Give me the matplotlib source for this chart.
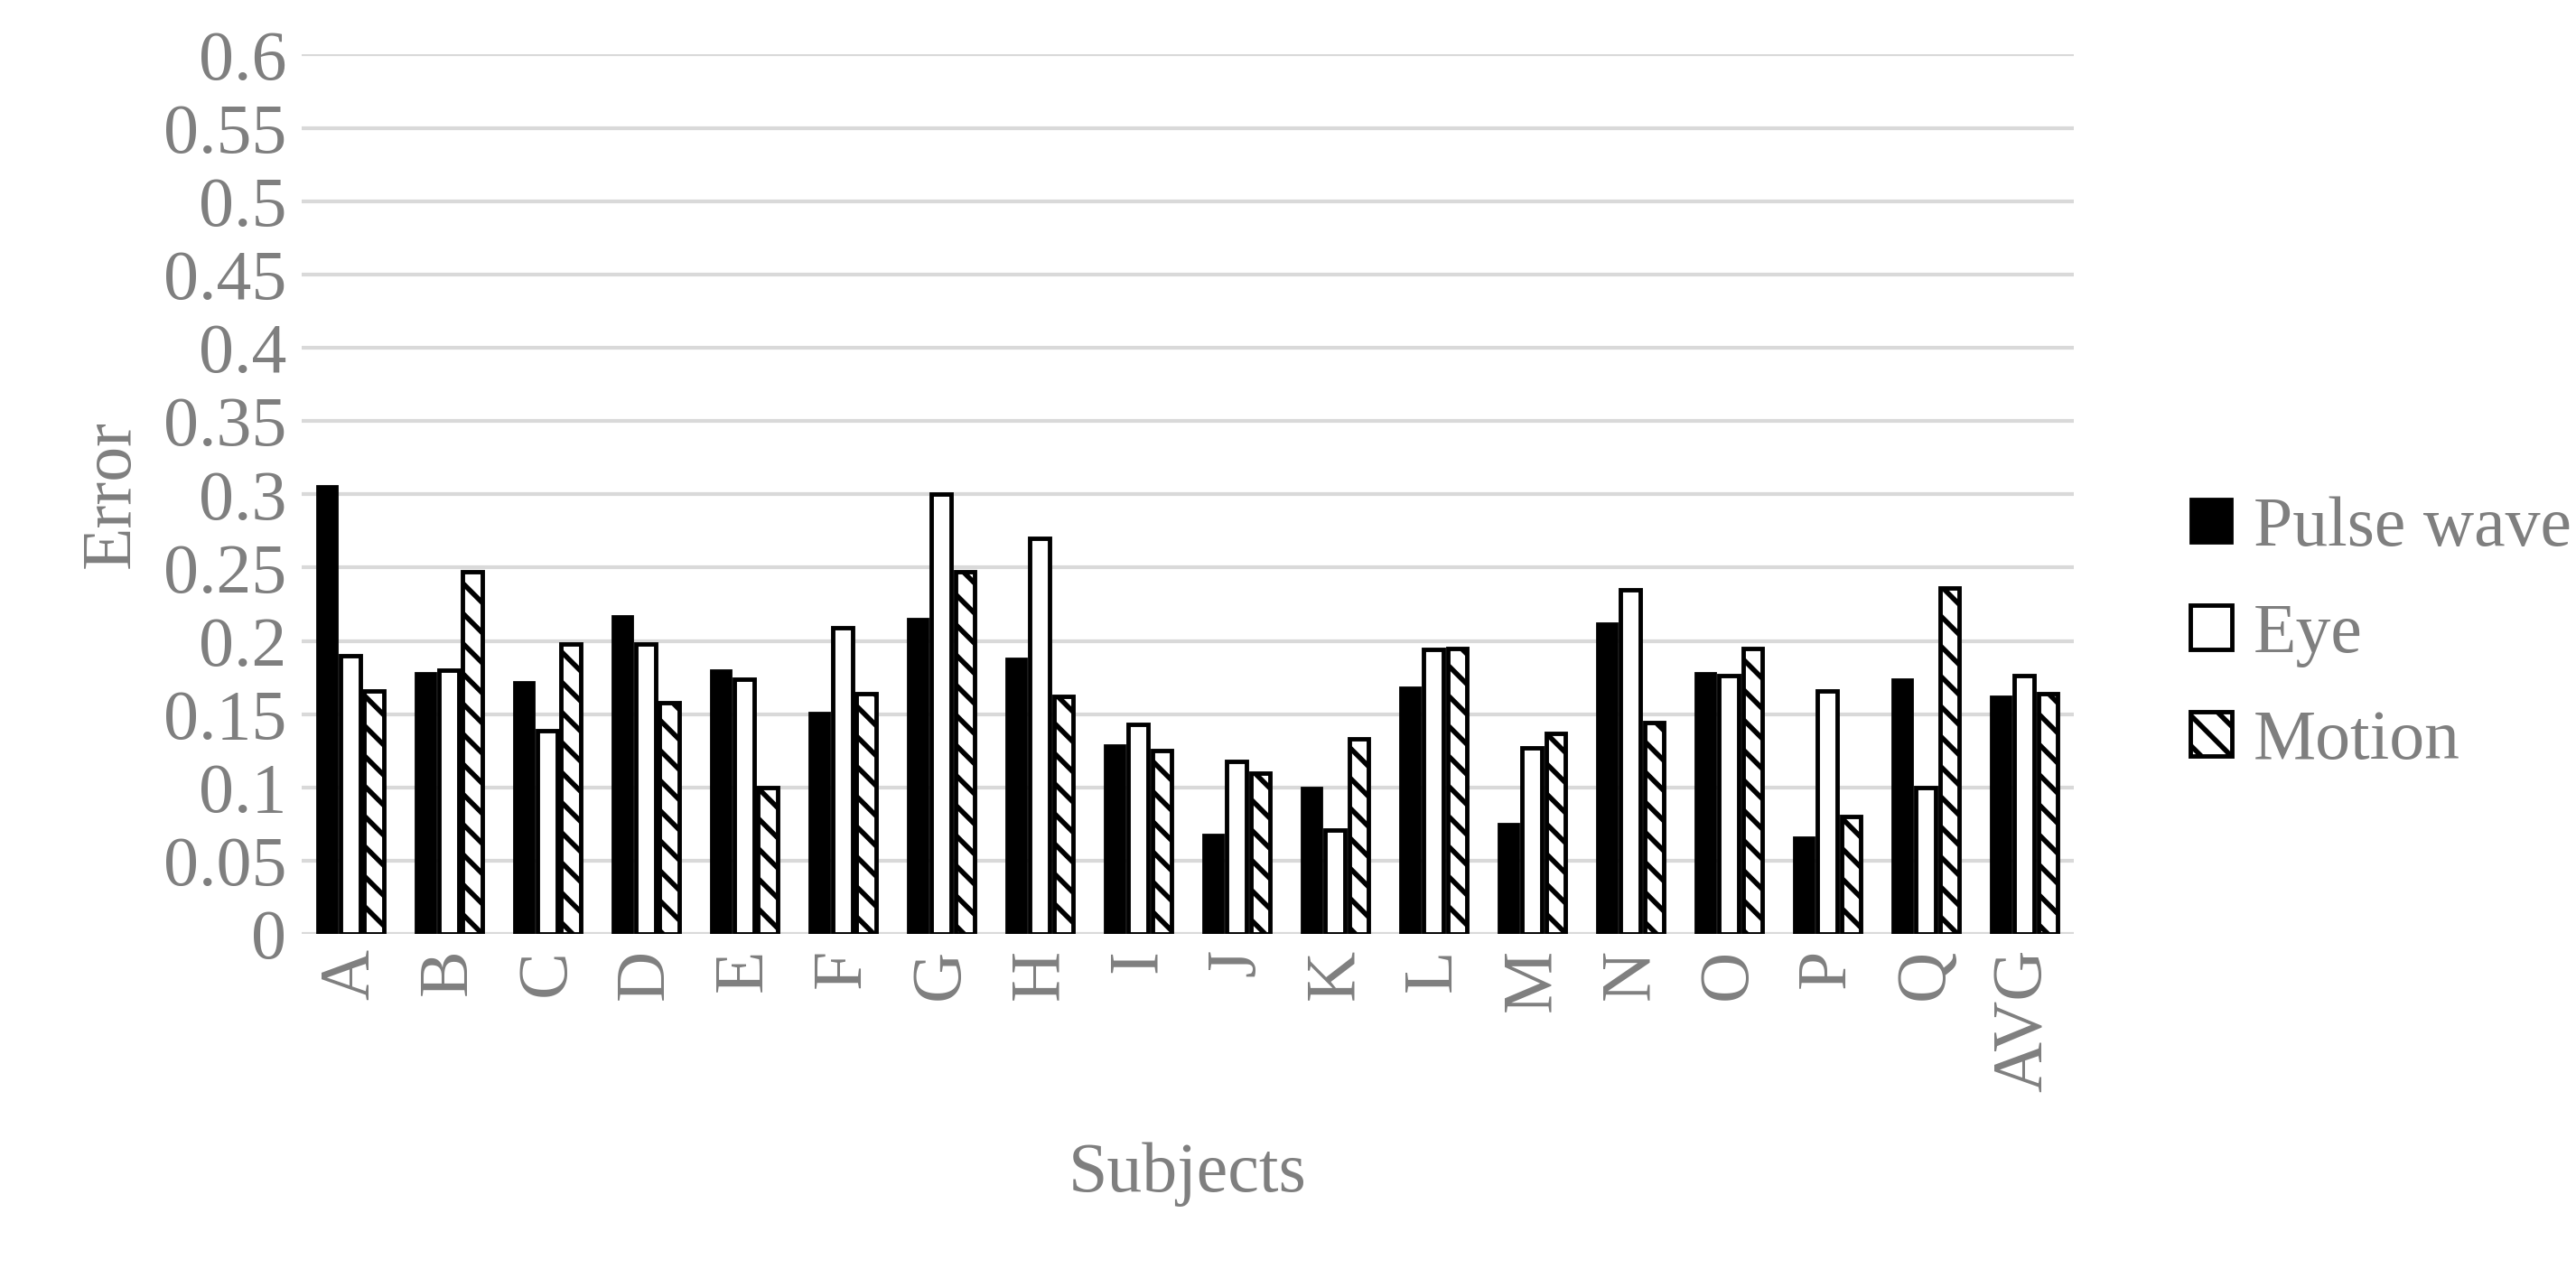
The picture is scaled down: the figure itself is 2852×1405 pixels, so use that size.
import numpy as np
import matplotlib.pyplot as plt

subjects = ["A", "B", "C", "D", "E", "F", "G", "H", "I", "J", "K", "L", "M", "N", "O", "P", "Q", "AVG"]
pulse = [0.306, 0.178, 0.172, 0.217, 0.180, 0.151, 0.215, 0.188, 0.129, 0.068, 0.100, 0.168, 0.075, 0.212, 0.178, 0.066, 0.174, 0.162]
eye = [0.190, 0.180, 0.139, 0.198, 0.174, 0.209, 0.300, 0.270, 0.143, 0.118, 0.071, 0.194, 0.127, 0.235, 0.176, 0.166, 0.100, 0.176]
motion = [0.166, 0.247, 0.198, 0.158, 0.100, 0.164, 0.247, 0.162, 0.125, 0.110, 0.133, 0.195, 0.137, 0.144, 0.195, 0.080, 0.236, 0.164]

plt.rcParams['font.family'] = ['Liberation Serif', 'DejaVu Serif']
plt.rcParams['hatch.linewidth'] = 4
gray = '#7f7f7f'
fs = 56

fig = plt.figure(figsize=(28.52, 14.05), dpi=100)
ax = fig.add_axes([0.117, 0.264, 0.688, 0.693])

x = np.arange(len(subjects))
w = 0.2
ax.bar(x - 0.24, pulse, w, color='black', edgecolor='black', linewidth=2, label='Pulse wave')
ax.bar(x, eye, w, color='white', edgecolor='black', linewidth=3.5, label='Eye')
ax.bar(x + 0.24, motion, w, color='white', edgecolor='black', linewidth=3.5, hatch='\\', label='Motion')

ax.set_ylim(0, 0.6)
ax.set_xlim(-0.5, len(subjects) - 0.5)
yt = np.arange(0, 0.61, 0.05)
ax.set_yticks(yt)
ax.set_yticklabels(['{:g}'.format(round(v, 2)) for v in yt])
ax.set_xticks(x)
ax.set_xticklabels(subjects, rotation=90)
ax.tick_params(length=0, labelsize=fs, labelcolor=gray, pad=12)
ax.yaxis.grid(True, color='#d9d9d9', linewidth=3)
ax.set_axisbelow(True)
for s in ax.spines.values():
    s.set_visible(False)

ax.set_xlabel('Subjects', fontsize=fs, color=gray, labelpad=40)
ax.set_ylabel('Error', fontsize=fs, color=gray, labelpad=15)

leg = ax.legend(loc='center left', bbox_to_anchor=(1.03, 0.34), frameon=False,
                fontsize=fs, labelcolor=gray, handlelength=0.6, handleheight=0.6,
                labelspacing=0.6, handletextpad=0.3)

fig.savefig('out.png')
